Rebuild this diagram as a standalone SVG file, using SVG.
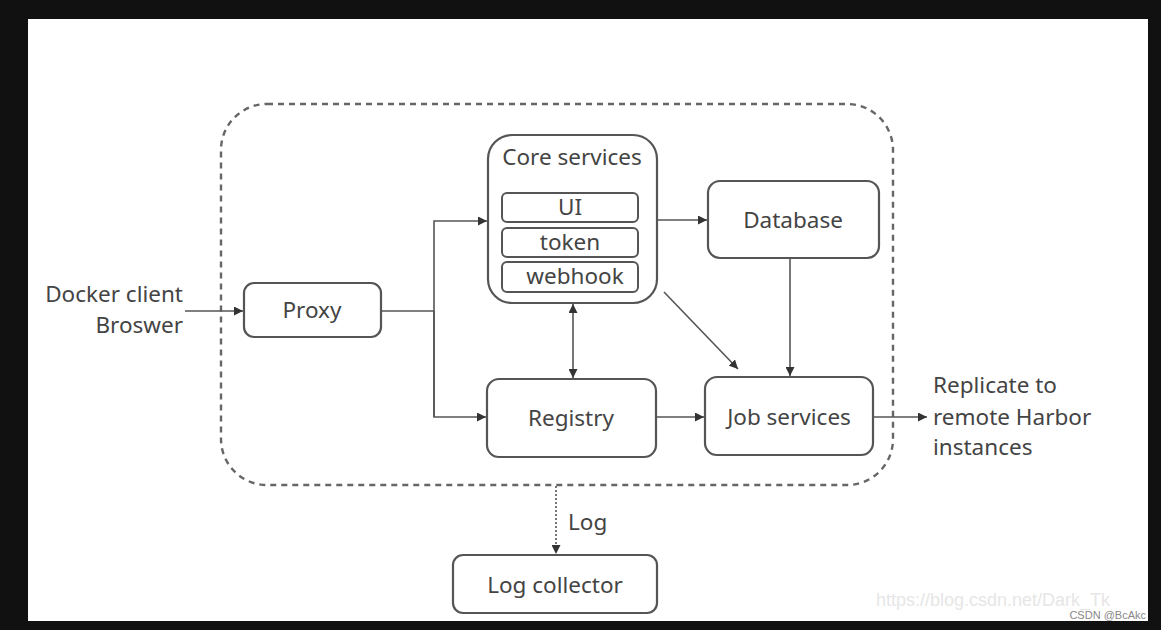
<svg xmlns="http://www.w3.org/2000/svg" width="1161" height="630" viewBox="0 0 1161 630">
<style>
.box{fill:#fff;stroke:#555;stroke-width:2.2}
.inner{fill:#fff;stroke:#555;stroke-width:2}
.t{font-family:"Noto Sans","Open Sans",sans-serif;font-size:22.5px;fill:#444;text-anchor:middle;dominant-baseline:central}
.tl{font-family:"Noto Sans","Open Sans",sans-serif;font-size:22.5px;fill:#444;dominant-baseline:central}
.c{fill:none;stroke:#555;stroke-width:1.6}
</style>
<defs>
<marker id="ah" viewBox="0 0 10 10" refX="10" refY="5" markerWidth="9" markerHeight="9" markerUnits="userSpaceOnUse" orient="auto-start-reverse">
<path d="M0,0 L10,5 L0,10 z" fill="#333"/>
</marker>
</defs>
<rect x="0" y="0" width="1161" height="630" fill="#111"/>
<rect x="28" y="19" width="1120" height="602" fill="#fff"/>
<rect x="221" y="104" width="672" height="381" rx="46" fill="none" stroke="#666" stroke-width="2.4" stroke-dasharray="6,5"/>

<g id="connectors">
<line class="c" x1="185" y1="311" x2="243" y2="311" marker-end="url(#ah)"/>
<polyline class="c" points="381,311 434,311"/>
<polyline class="c" points="434,417 434,221 487,221" marker-end="url(#ah)"/>
<polyline class="c" points="434,311 434,417 486,417" marker-end="url(#ah)"/>
<line class="c" x1="657" y1="220" x2="707" y2="220" marker-end="url(#ah)"/>
<line class="c" x1="790" y1="258" x2="790" y2="376" marker-end="url(#ah)"/>
<line class="c" x1="664" y1="292" x2="738" y2="369" marker-end="url(#ah)"/>
<line class="c" x1="573" y1="304" x2="573" y2="378" marker-start="url(#ah)" marker-end="url(#ah)"/>
<line class="c" x1="656" y1="417" x2="704" y2="417" marker-end="url(#ah)"/>
<line class="c" x1="873" y1="417" x2="927" y2="417" marker-end="url(#ah)"/>
<line class="c" x1="556" y1="486" x2="556" y2="554" stroke-dasharray="2,2" marker-end="url(#ah)"/>
</g>

<g id="client"><text class="tl" x="183" y="293" style="text-anchor:end">Docker client</text><text class="tl" x="183" y="324" style="text-anchor:end">Broswer</text></g>

<g id="proxy"><rect class="box" x="244" y="283" width="137" height="54" rx="10"/><text class="t" x="312" y="309">Proxy</text></g>

<g id="core">
<rect class="box" x="488" y="135" width="169" height="168" rx="24"/>
<text class="t" x="572" y="156">Core services</text>
<rect class="inner" x="502" y="193" width="136" height="29" rx="5"/><text class="t" x="570" y="206">UI</text>
<rect class="inner" x="502" y="228" width="136" height="29" rx="5"/><text class="t" x="570" y="241">token</text>
<rect class="inner" x="502" y="262" width="136" height="30" rx="5"/><text class="t" x="575" y="275">webhook</text>
</g>

<g id="database"><rect class="box" x="708" y="181" width="171" height="77" rx="12"/><text class="t" x="793" y="219">Database</text></g>

<g id="registry"><rect class="box" x="487" y="379" width="169" height="78" rx="12"/><text class="t" x="571" y="417">Registry</text></g>

<g id="jobservices"><rect class="box" x="705" y="377" width="168" height="78" rx="12"/><text class="t" x="789" y="416">Job services</text></g>

<g id="replicate"><text class="tl" x="933" y="384">Replicate to</text><text class="tl" x="933" y="416">remote Harbor</text><text class="tl" x="933" y="446">instances</text></g>

<text class="tl" x="568" y="521">Log</text>
<g id="logcollector"><rect class="box" x="453" y="555" width="204" height="58" rx="10"/><text class="t" x="555" y="584">Log collector</text></g>

<text x="1110" y="606" font-family="Liberation Sans, Arial, sans-serif" font-size="18" fill="#e6e6e6" text-anchor="end">https://blog.csdn.net/Dark_Tk</text>
<text x="1146" y="619" font-family="Liberation Sans, Arial, sans-serif" font-size="11" fill="#888" text-anchor="end">CSDN @BcAkc</text>
</svg>
